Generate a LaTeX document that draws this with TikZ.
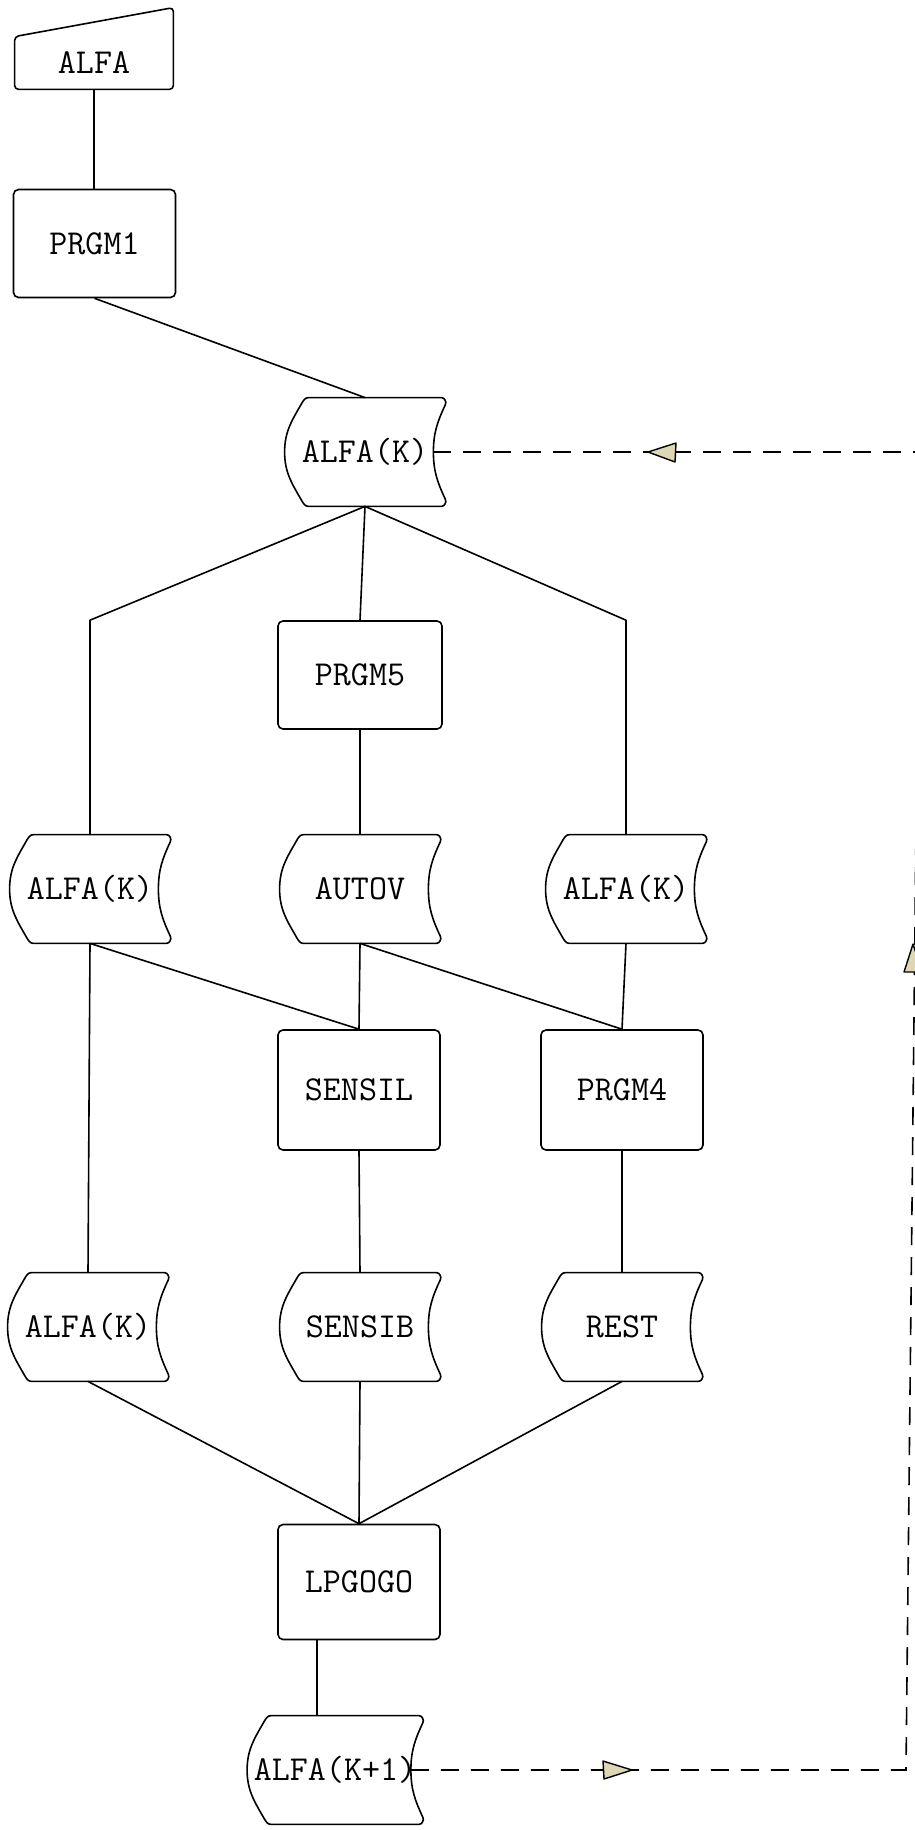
\documentclass[tikz,border=0pt]{standalone}
\usetikzlibrary{calc}
\definecolor{arrowfill}{RGB}{222,214,180}
\newcommand\sdraw[1]{%
  \draw[conn] ($(#1.south west)+(24,0)$) -- ($(#1.south east)+(-4,0)$)
    to[out=0,in=-65] ($(#1.south east)+(0,7)$)
    to[out=115,in=-90] ($(#1.east)+(-12,0)$)
    to[out=90,in=-115] ($(#1.north east)+(0,-7)$)
    to[out=65,in=0] ($(#1.north east)+(-4,0)$)
    -- ($(#1.north west)+(24,0)$)
    to[out=180,in=60] ($(#1.north west)+(17,-6)$)
    to[out=240,in=90] (#1.west)
    to[out=270,in=120] ($(#1.south west)+(17,6)$)
    to[out=300,in=180] ($(#1.south west)+(24,0)$) -- cycle;}
\begin{document}
\begin{tikzpicture}[x=0.5pt,y=0.5pt,
  every node/.style={inner sep=0pt, font=\fontsize{17.5}{21}\selectfont\ttfamily},
  conn/.style={line width=0.8pt, line join=round},
  proc/.style={draw, line width=0.8pt, rounded corners=2.5pt, minimum width=81pt, minimum height=54pt},
  store/.style={minimum width=80pt, minimum height=54pt},
  manual/.style={minimum width=79pt, minimum height=26pt},
  fb/.style={line width=0.8pt, dash pattern=on 9pt off 6pt},
  tipmark/.style={draw, line width=0.7pt, fill=arrowfill, line join=round}]
\useasboundingbox (0,0) rectangle (915,-1830);

% nodes
\node[manual] (alfa) at (94,-63) {ALFA};
\node[proc] (prgm1) at (94.5,-243.5) {PRGM1};
\node[store] (ak) at (365,-452) {ALFA(K)};
\node[proc, minimum width=82pt] (prgm5) at (360,-675) {PRGM5};
\node[store] (l2) at (90,-889) {ALFA(K)};
\node[store] (autov) at (360,-889) {AUTOV};
\node[store] (r2) at (626,-889) {ALFA(K)};
\node[proc, minimum height=60pt] (sensil) at (359,-1090) {SENSIL};
\node[proc, minimum height=60pt] (prgm4) at (622,-1090) {PRGM4};
\node[store] (l4) at (88,-1327) {ALFA(K)};
\node[store] (sensib) at (360,-1327) {SENSIB};
\node[store] (rest) at (622,-1327) {REST};
\node[proc, minimum height=57.5pt] (lp) at (359,-1582) {LPGOGO};
\node[store, minimum width=87.5pt] (ak1) at (335,-1770) {ALFA(K+1)};

% manual input outline
\draw[conn, rounded corners=2pt] (alfa.south west) -- (alfa.south east)
  -- ($(alfa.north east)+(0,29)$) -- (alfa.north west) -- cycle;

% stored data outlines
\foreach \n in {ak,l2,autov,r2,l4,sensib,rest,ak1} {\sdraw{\n}}

% connectors
\draw[conn] (alfa.south) -- (alfa.south |- prgm1.north);
\draw[conn] (prgm1.south) -- (ak.north);
\draw[conn] (ak.south) -- (l2.north |- prgm5.north) -- (l2.north);
\draw[conn] (ak.south) -- (prgm5.north);
\draw[conn] (ak.south) -- (r2.north |- prgm5.north) -- (r2.north);
\draw[conn] (prgm5.south) -- (autov.north);
\draw[conn] (l2.south) -- (l4.north);
\draw[conn] (l2.south) -- (sensil.north);
\draw[conn] (autov.south) -- (sensil.north);
\draw[conn] (autov.south) -- (prgm4.north);
\draw[conn] (r2.south) -- (prgm4.north);
\draw[conn] (sensil.south) -- (sensib.north);
\draw[conn] (prgm4.south) -- (rest.north);
\draw[conn] (l4.south) -- (lp.north);
\draw[conn] (sensib.south) -- (lp.north);
\draw[conn] (rest.south) -- (lp.north);
\coordinate (lpdrop) at ($(lp.south)+(-42,0)$);
\draw[conn] (lpdrop) -- (lpdrop |- ak1.north);

% feedback loop
\coordinate (tr) at (920,-452);
\coordinate (br) at (906,-1770);
\draw[fb] ($(ak.east)+(-12,0)$) -- (tr);
\draw[fb] ($(ak1.east)+(-12,0)$) -- (br) -- (tr);
\draw[tipmark] (648,-452) -- (676,-443) -- (675,-462) -- cycle;
\draw[tipmark] (632,-1770) -- (603,-1761) -- (604,-1779) -- cycle;
\draw[tipmark] (913,-944) -- (904,-972) -- (922,-972) -- cycle;
\end{tikzpicture}
\end{document}
